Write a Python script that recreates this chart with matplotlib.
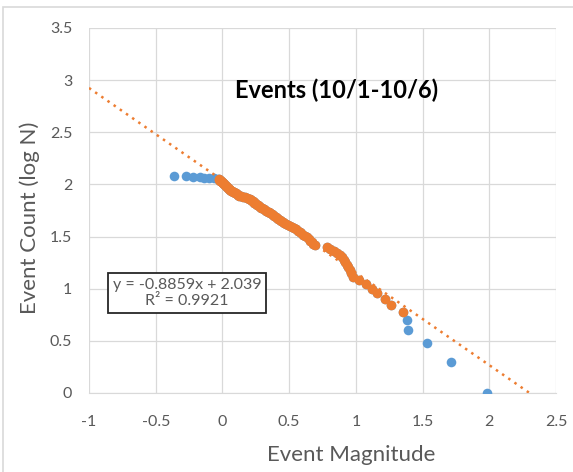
import matplotlib.pyplot as plt
from matplotlib.patches import Rectangle

# event magnitudes, sorted from the strongest (count 1) to the weakest (count 120)
magnitude = [1.98, 1.71, 1.535, 1.39, 1.387,
             1.35, 1.26, 1.22, 1.16, 1.12, 1.075, 1.02, 0.979, 0.966, 0.954,
             0.943, 0.933, 0.920, 0.908, 0.897, 0.882, 0.859, 0.835, 0.81, 0.785,
             0.691, 0.680, 0.670, 0.660, 0.647, 0.633, 0.618, 0.604, 0.592, 0.578,
             0.566, 0.552, 0.536, 0.521, 0.506, 0.491, 0.477, 0.464, 0.451, 0.439,
             0.428, 0.418, 0.408, 0.398, 0.387, 0.377, 0.368, 0.359, 0.349, 0.339,
             0.328, 0.318, 0.308, 0.298, 0.289, 0.280, 0.273, 0.266, 0.260, 0.253,
             0.246, 0.240, 0.233, 0.227, 0.222, 0.216, 0.210, 0.199, 0.184, 0.168,
             0.153, 0.140, 0.128, 0.120, 0.114, 0.107, 0.099, 0.093, 0.086, 0.079,
             0.073, 0.065, 0.060, 0.055, 0.051, 0.047, 0.043, 0.040, 0.036, 0.032,
             0.029, 0.025, 0.022, 0.018, 0.015, 0.012, 0.008, 0.005, 0.002, -0.001,
             -0.005, -0.009, -0.013, -0.017, -0.021, -0.025, -0.029,
             -0.03, -0.06, -0.10, -0.135, -0.17, -0.22, -0.27, -0.36]

# log10 of the cumulative event count
log_count = [0.000, 0.301, 0.477, 0.602, 0.699,
             0.778, 0.845, 0.903, 0.954, 1.000, 1.041, 1.079, 1.114, 1.146, 1.176,
             1.204, 1.230, 1.255, 1.279, 1.301, 1.322, 1.342, 1.362, 1.380, 1.398,
             1.415, 1.431, 1.447, 1.462, 1.477, 1.491, 1.505, 1.519, 1.531, 1.544,
             1.556, 1.568, 1.580, 1.591, 1.602, 1.613, 1.623, 1.633, 1.643, 1.653,
             1.663, 1.672, 1.681, 1.690, 1.699, 1.708, 1.716, 1.724, 1.732, 1.740,
             1.748, 1.756, 1.763, 1.771, 1.778, 1.785, 1.792, 1.799, 1.806, 1.813,
             1.820, 1.826, 1.833, 1.839, 1.845, 1.851, 1.857, 1.863, 1.869, 1.875,
             1.881, 1.886, 1.892, 1.898, 1.903, 1.908, 1.914, 1.919, 1.924, 1.929,
             1.934, 1.940, 1.944, 1.949, 1.954, 1.959, 1.964, 1.968, 1.973, 1.978,
             1.982, 1.987, 1.991, 1.996, 2.000, 2.004, 2.009, 2.013, 2.017, 2.021,
             2.025, 2.029, 2.033, 2.037, 2.041, 2.045, 2.049,
             2.053, 2.057, 2.061, 2.064, 2.068, 2.072, 2.076, 2.079]

# points used for the linear fit (count 6 .. 112)
fit_start, fit_end = 5, 112

slope, intercept, r2 = -0.8859, 2.039, 0.9921
trend_x = [-1.0, 2.3016]

x_ticks = [-1, -0.5, 0, 0.5, 1, 1.5, 2, 2.5]
y_ticks = [0, 0.5, 1, 1.5, 2, 2.5, 3, 3.5]

blue = '#5B9BD5'
orange = '#ED7D31'
grey = '#595959'
plt.rcParams['font.family'] = ['Lato', 'DejaVu Sans']

fig = plt.figure(figsize=(5.73, 4.72), dpi=100)
ax = fig.add_axes([0.1553, 0.1674, 0.815, 0.7733])

# outer chart border
fig.patches.append(Rectangle((3 / 573, -0.1), 1.2, 0.1 + 1 - 7 / 472,
                             transform=fig.transFigure, fill=False,
                             edgecolor='#D9D9D9', linewidth=1.2))

ax.scatter(magnitude, log_count, s=48, color=blue, zorder=3, linewidths=0)
ax.scatter(magnitude[fit_start:fit_end], log_count[fit_start:fit_end],
           s=48, color=orange, zorder=4, linewidths=0)
trend_y = [slope * v + intercept for v in trend_x]
ax.plot(trend_x, trend_y, color=orange, linestyle=(0, (1, 2)), linewidth=1.8,
        zorder=5)

ax.set_xlim(-1, 2.5)
ax.set_ylim(0, 3.5)
ax.set_xticks(x_ticks)
ax.set_yticks(y_ticks)
ax.set_xticklabels([f'{v:g}' for v in x_ticks])
ax.set_yticklabels([f'{v:g}' for v in y_ticks])
ax.tick_params(length=0, labelsize=11.5, labelcolor=grey)
ax.tick_params(axis='x', pad=16)
ax.tick_params(axis='y', pad=12)
ax.grid(color='#D9D9D9', linewidth=0.9)
ax.set_axisbelow(True)
for side in ['top', 'right', 'left']:
    ax.spines[side].set_visible(False)
ax.spines['bottom'].set_color('#D9D9D9')

ax.set_xlabel('Event Magnitude', fontsize=16, color=grey)
ax.xaxis.set_label_coords(0.561, -0.143)
ax.set_ylabel('Event Count (log N)', fontsize=16, color=grey)
ax.yaxis.set_label_coords(-0.105, 0.48)

ax.text(0.53, 0.83, 'Events (10/1-10/6)', transform=ax.transAxes,
        fontsize=17, fontweight='bold', color='black', ha='center', va='center')

ax.text(0.21, 0.274, f'y = {slope}x + {intercept}\nR\u00b2 = {r2}',
        transform=ax.transAxes, fontsize=11.5, color=grey, ha='center',
        va='center', linespacing=1.1,
        bbox=dict(boxstyle='square,pad=0.32', facecolor='white',
                  edgecolor='#262626', linewidth=1.3))

fig.savefig('out.png', dpi=100)
